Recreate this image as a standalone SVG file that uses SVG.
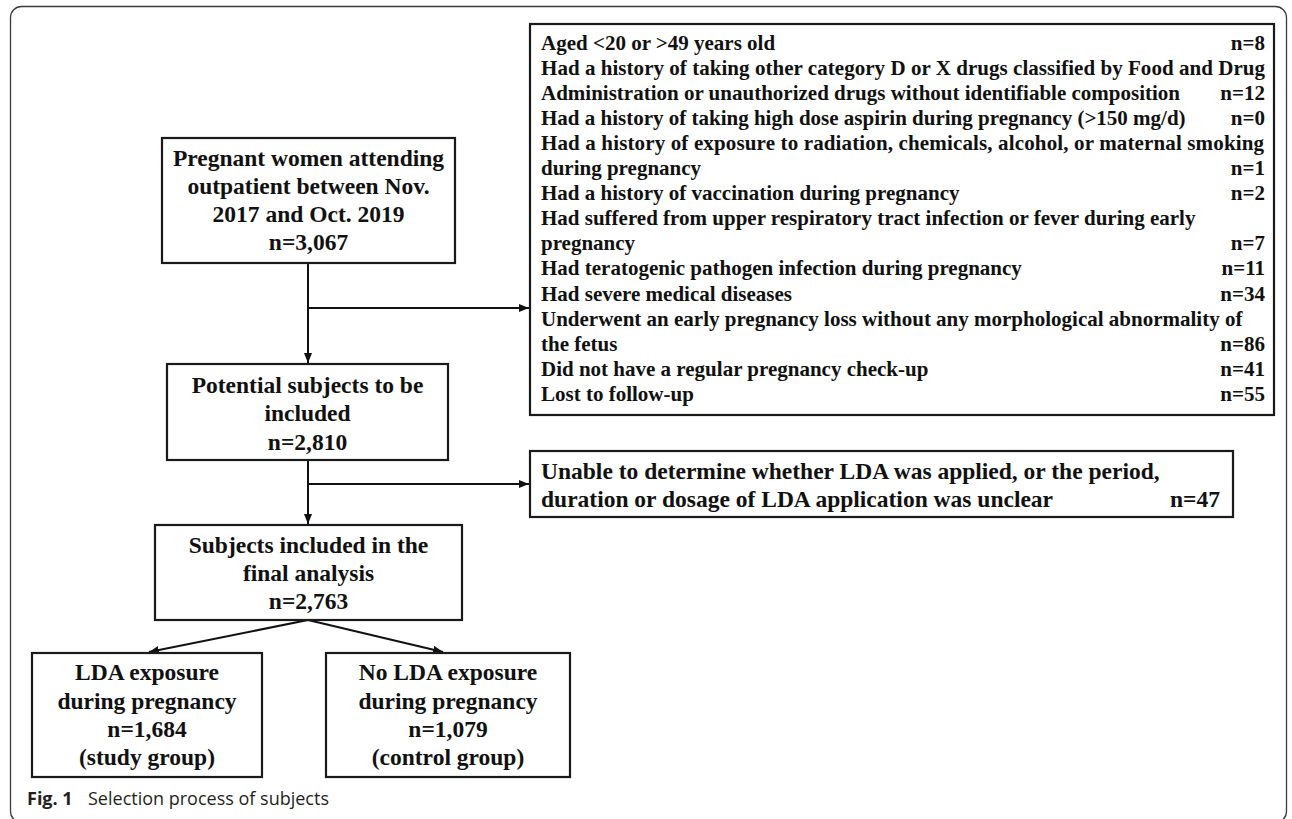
<svg xmlns="http://www.w3.org/2000/svg" width="1292" height="819" viewBox="0 0 1292 819">
<style>
.frame{fill:none;stroke:#3a3a3a;stroke-width:1.3}
.box{fill:#fff;stroke:#1a1a1a;stroke-width:2.2}
.t{font-family:"Liberation Serif","Times New Roman",serif;font-weight:bold;font-size:23.5px;fill:#111;text-anchor:middle}
.l{font-family:"Liberation Serif","Times New Roman",serif;font-weight:bold;font-size:21px;fill:#111}
.r{text-anchor:end}
.lt{font-family:"Liberation Serif","Times New Roman",serif;font-weight:bold;font-size:23.5px;fill:#111}
.conn{fill:none;stroke:#111;stroke-width:2}
.cap{font-family:"Open Sans","Noto Sans",sans-serif;font-size:18px;fill:#231f20}
</style>
<defs>
<marker id="arr" markerUnits="userSpaceOnUse" markerWidth="10" markerHeight="8" refX="10" refY="4" orient="auto">
<path d="M0,0 L10,4 L0,8 z" fill="#111"/>
</marker>
</defs>
<rect class="frame" x="10.5" y="6.5" width="1276" height="816" rx="11"/>
<g id="connectors">
<line class="conn" x1="308" y1="263" x2="308" y2="363" marker-end="url(#arr)"/>
<line class="conn" x1="308" y1="308" x2="529" y2="308" marker-end="url(#arr)"/>
<line class="conn" x1="308" y1="460" x2="308" y2="524" marker-end="url(#arr)"/>
<line class="conn" x1="308" y1="484" x2="529" y2="484" marker-end="url(#arr)"/>
<line class="conn" x1="308" y1="620" x2="149" y2="652" marker-end="url(#arr)"/>
<line class="conn" x1="308" y1="620" x2="443" y2="652" marker-end="url(#arr)"/>
</g>
<g id="node-pregnant">
<rect class="box" x="162" y="138" width="293" height="125"/>
<text class="t" x="308.5" y="166">Pregnant women attending</text>
<text class="t" x="308.5" y="194">outpatient between Nov.</text>
<text class="t" x="308.5" y="222">2017 and Oct. 2019</text>
<text class="t" x="308.5" y="250">n=3,067</text>
</g>
<g id="node-exclusions">
<rect class="box" x="530" y="24" width="744" height="391"/>
<text class="l" x="541" y="49.5">Aged &lt;20 or &gt;49 years old</text><text class="l r" x="1265" y="49.5">n=8</text>
<text class="l" x="541" y="74.6" textLength="724" lengthAdjust="spacing">Had a history of taking other category D or X drugs classified by Food and Drug</text>
<text class="l" x="541" y="99.7">Administration or unauthorized drugs without identifiable composition</text><text class="l r" x="1265" y="99.7">n=12</text>
<text class="l" x="541" y="124.8">Had a history of taking high dose aspirin during pregnancy (&gt;150 mg/d)</text><text class="l r" x="1265" y="124.8">n=0</text>
<text class="l" x="541" y="149.9" textLength="723" lengthAdjust="spacing">Had a history of exposure to radiation, chemicals, alcohol, or maternal smoking</text>
<text class="l" x="541" y="175">during pregnancy</text><text class="l r" x="1265" y="175">n=1</text>
<text class="l" x="541" y="200.1">Had a history of vaccination during pregnancy</text><text class="l r" x="1265" y="200.1">n=2</text>
<text class="l" x="541" y="225.2">Had suffered from upper respiratory tract infection or fever during early</text>
<text class="l" x="541" y="250.3">pregnancy</text><text class="l r" x="1265" y="250.3">n=7</text>
<text class="l" x="541" y="275.4">Had teratogenic pathogen infection during pregnancy</text><text class="l r" x="1265" y="275.4">n=11</text>
<text class="l" x="541" y="300.5">Had severe medical diseases</text><text class="l r" x="1265" y="300.5">n=34</text>
<text class="l" x="541" y="325.6">Underwent an early pregnancy loss without any morphological abnormality of</text>
<text class="l" x="541" y="350.7">the fetus</text><text class="l r" x="1265" y="350.7">n=86</text>
<text class="l" x="541" y="375.8">Did not have a regular pregnancy check-up</text><text class="l r" x="1265" y="375.8">n=41</text>
<text class="l" x="541" y="400.9">Lost to follow-up</text><text class="l r" x="1265" y="400.9">n=55</text>
</g>
<g id="node-potential">
<rect class="box" x="167" y="364" width="281" height="96"/>
<text class="t" x="307.5" y="392.5">Potential subjects to be</text>
<text class="t" x="307.5" y="421">included</text>
<text class="t" x="307.5" y="449.5">n=2,810</text>
</g>
<g id="node-unable">
<rect class="box" x="530" y="451" width="703" height="66"/>
<text class="lt" x="541" y="479">Unable to determine whether LDA was applied, or the period,</text>
<text class="lt" x="541" y="507">duration or dosage of LDA application was unclear</text>
<text class="lt r" x="1220" y="507">n=47</text>
</g>
<g id="node-included">
<rect class="box" x="155" y="525" width="307" height="95"/>
<text class="t" x="308.5" y="552.5">Subjects included in the</text>
<text class="t" x="308.5" y="581">final analysis</text>
<text class="t" x="308.5" y="609">n=2,763</text>
</g>
<g id="node-lda">
<rect class="box" x="32" y="653" width="230" height="124"/>
<text class="t" x="147" y="680">LDA exposure</text>
<text class="t" x="147" y="708.5">during pregnancy</text>
<text class="t" x="147" y="737">n=1,684</text>
<text class="t" x="147" y="765">(study group)</text>
</g>
<g id="node-nolda">
<rect class="box" x="326" y="653" width="244" height="124"/>
<text class="t" x="448" y="680">No LDA exposure</text>
<text class="t" x="448" y="708.5">during pregnancy</text>
<text class="t" x="448" y="737">n=1,079</text>
<text class="t" x="448" y="765">(control group)</text>
</g>
<g id="caption">
<text class="cap" x="27" y="805" font-weight="bold">Fig. 1</text>
<text class="cap" x="88" y="805">Selection process of subjects</text>
</g>
</svg>
